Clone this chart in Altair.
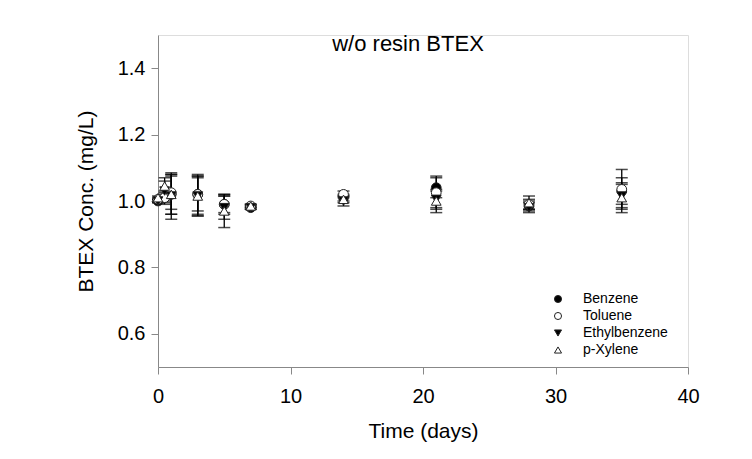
import altair as alt
import pandas as pd

times = [0, 0.5, 1, 3, 5, 7, 14, 21, 28, 35]
compounds = ["Benzene", "Toluene", "Ethylbenzene", "p-Xylene"]
benzene = [1.00, 1.01, 1.02, 1.02, 0.99, 0.98, 1.01, 1.04, 0.985, 1.03]
benzene_err = [0.005, 0.02, 0.06, 0.06, 0.03, 0.005, 0.01, 0.03, 0.015, 0.04]
toluene = [1.005, 1.01, 1.025, 1.02, 0.99, 0.985, 1.02, 1.025, 0.99, 1.035]
toluene_err = [0.005, 0.015, 0.05, 0.05, 0.025, 0.005, 0.01, 0.05, 0.015, 0.06]
ethyl = [1.00, 1.03, 1.015, 1.015, 0.98, 0.98, 1.00, 1.005, 0.98, 1.015]
ethyl_err = [0.005, 0.03, 0.07, 0.06, 0.035, 0.005, 0.015, 0.025, 0.015, 0.035]
xylene = [1.01, 1.045, 1.02, 1.015, 0.97, 0.985, 1.005, 1.0, 0.995, 1.01]
xylene_err = [0.005, 0.025, 0.06, 0.06, 0.05, 0.005, 0.01, 0.035, 0.02, 0.045]

x_ticks = [0, 10, 20, 30, 40]
y_ticks = [0.6, 0.8, 1.0, 1.2, 1.4]

rows = []
for name, vals, errs in zip(compounds, [benzene, toluene, ethyl, xylene],
                            [benzene_err, toluene_err, ethyl_err, xylene_err]):
    for t, v, e in zip(times, vals, errs):
        rows.append({"time": t, "compound": name, "value": v, "lo": v - e, "hi": v + e})
df = pd.DataFrame(rows)

FONT = "Liberation Sans"

x_enc = alt.X("time:Q", scale=alt.Scale(domain=[0, 40], nice=False),
              axis=alt.Axis(values=x_ticks, title="Time (days)", grid=False, labelFlush=False,
                            labelFontSize=20, titleFontSize=21, labelPadding=12,
                            titlePadding=14, tickSize=7, format="d",
                            titleFontWeight="normal", labelFont=FONT, titleFont=FONT))
y_axis = alt.Axis(values=y_ticks, title="BTEX Conc. (mg/L)", grid=False, format=".1f",
                  labelFontSize=20, titleFontSize=21, labelPadding=6, titlePadding=21,
                  tickSize=7, labelFlush=False,
                  titleFontWeight="normal", labelFont=FONT, titleFont=FONT)
y_scale = alt.Scale(domain=[0.5, 1.5], nice=False)

base = alt.Chart(df)

rules = base.mark_rule(color="black", strokeWidth=1.3).encode(
    x=x_enc,
    y=alt.Y("lo:Q", scale=y_scale, axis=y_axis),
    y2="hi:Q",
)
cap_lo = base.mark_tick(orient="horizontal", size=12, thickness=1.5, color="black").encode(
    x=x_enc, y=alt.Y("lo:Q", scale=y_scale, axis=y_axis))
cap_hi = base.mark_tick(orient="horizontal", size=12, thickness=1.5, color="black").encode(
    x=x_enc, y=alt.Y("hi:Q", scale=y_scale, axis=y_axis))

def make_legend():
    return alt.Legend(title=None, orient="none", legendX=393, legendY=257,
                      labelFontSize=14, symbolSize=50, rowPadding=3,
                      symbolStrokeWidth=1, labelFont=FONT, labelColor="black",
                      labelOffset=18)

points = base.mark_point(filled=True, strokeWidth=1, size=95, opacity=1).encode(
    x=x_enc,
    y=alt.Y("value:Q", scale=y_scale, axis=y_axis),
    shape=alt.Shape("compound:N",
                    scale=alt.Scale(domain=compounds,
                                    range=["circle", "circle", "triangle-down", "triangle-up"]),
                    legend=make_legend()),
    fill=alt.Fill("compound:N",
                  scale=alt.Scale(domain=compounds, range=["black", "white", "black", "white"]),
                  legend=make_legend()),
    stroke=alt.Stroke("compound:N",
                      scale=alt.Scale(domain=compounds, range=["#222222"] * 4),
                      legend=make_legend()),
)

title_df = pd.DataFrame({"t": ["w/o resin BTEX"]})
title = alt.Chart(title_df).mark_text(font=FONT, fontSize=22, color="black",
                                      baseline="alphabetic", align="center").encode(
    text="t:N", x=alt.value(250), y=alt.value(16))

chart = alt.layer(rules, cap_lo, cap_hi, points, title).properties(
    width=530, height=332,
    padding={"left": 150, "top": 27, "right": 56, "bottom": 84},
    autosize=alt.AutoSizeParams(type="none"),
).configure_view(stroke="black", strokeWidth=1).configure_axis(
    domainColor="black", tickColor="black", labelColor="black", titleColor="black",
    labelFont=FONT, titleFont=FONT, titleFontWeight="normal", domainWidth=1, tickWidth=1,
).configure(background="white")

chart.save("out.html", embed_options={"renderer": "svg", "actions": False})
